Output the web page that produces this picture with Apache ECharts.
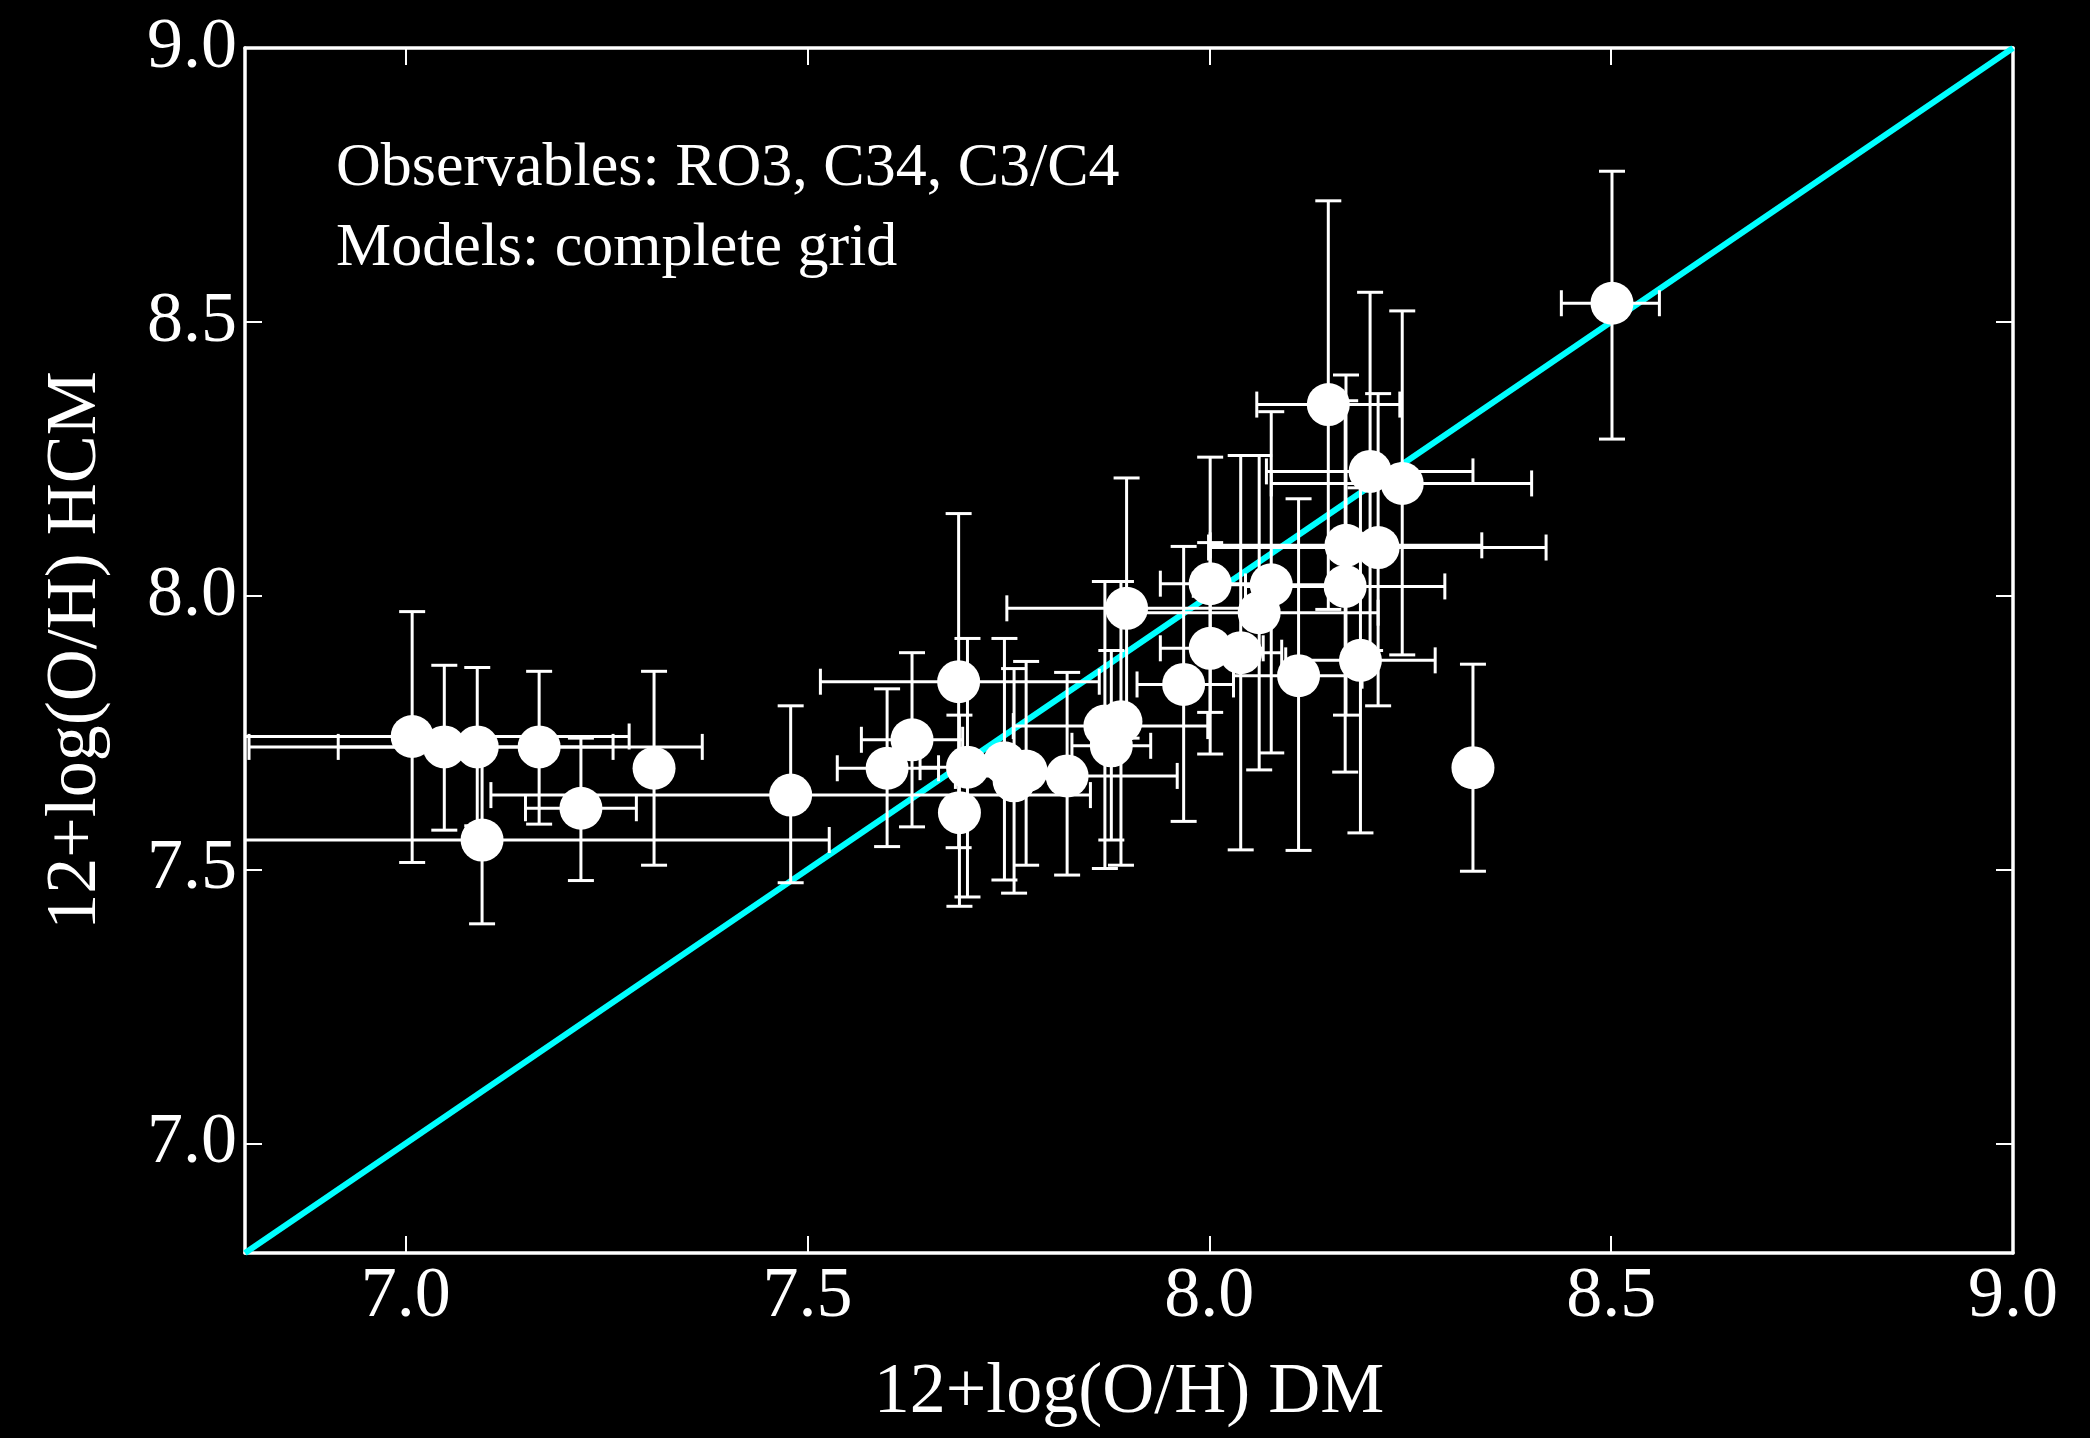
<!DOCTYPE html>
<html>
<head>
<meta charset="utf-8">
<script src="https://cdn.jsdelivr.net/npm/echarts@6/dist/echarts.min.js"></script>
<style>
  html, body { margin: 0; padding: 0; background: #000; }
  #chart { width: 2090px; height: 1438px; }
</style>
</head>
<body>
<div id="chart"></div>
<script>
// Data: DM abundance (x), HCM abundance (y) and the error bar ends
const xValues = [7.008, 7.048, 7.089, 7.166, 7.095, 7.218, 7.309, 7.479, 7.599, 7.630,
  7.688, 7.689, 7.699, 7.745, 7.757, 7.772, 7.823, 7.870, 7.890, 7.878,
  7.897, 7.968, 8.001, 8.001, 8.039, 8.062, 8.077, 8.111, 8.148, 8.170,
  8.169, 8.188, 8.200, 8.210, 8.240, 8.328, 8.501]
const yValues = [7.743, 7.724, 7.724, 7.724, 7.554, 7.612, 7.685, 7.636, 7.685, 7.737,
  7.843, 7.604, 7.687, 7.695, 7.662, 7.680, 7.671, 7.762, 7.770, 7.726,
  7.977, 7.838, 8.022, 7.904, 7.896, 7.969, 8.020, 7.854, 8.349, 8.092,
  8.017, 7.882, 8.227, 8.088, 8.205, 7.686, 8.534]
const xLow = [6.738, 6.916, 6.805, null, 6.660, 7.149, null, 7.106, 7.537, 7.567,
  7.516, null, 7.640, null, null, null, 7.684, 7.756, null, 7.829,
  7.748, 7.910, 7.939, 7.939, 7.990, 7.910, 7.980, 8.030, 8.059, 8.001,
  8.045, 8.095, 8.071, 7.999, 8.077, null, 8.438]
const xHigh = [7.278, 7.258, 7.369, null, 7.527, 7.287, null, 7.852, 7.663, 7.693,
  7.863, null, 7.735, null, null, null, 7.960, 7.998, null, 7.927,
  8.046, 8.030, 8.063, 8.067, 8.090, 8.210, 8.175, 8.190, 8.237, 8.339,
  8.293, 8.281, 8.328, 8.419, 8.401, null, 8.560]
const yLow = [7.513, 7.572, 7.580, 7.583, 7.401, 7.480, 7.508, 7.476, 7.542, 7.578,
  7.540, 7.433, 7.450, 7.481, 7.457, 7.508, 7.490, 7.502, 7.508, 7.554,
  7.740, 7.588, 7.787, 7.711, 7.536, 7.682, 7.713, 7.535, 7.975, 7.782,
  7.678, 7.567, 7.900, 7.799, 7.892, 7.497, 8.286]
const yHigh = [7.971, 7.873, 7.869, 7.862, 7.720, 7.740, 7.862, 7.799, 7.830, 7.896,
  8.150, 7.782, 7.922, 7.922, 7.867, 7.880, 7.860, 8.026, 8.026, 7.900,
  8.215, 8.090, 8.253, 8.097, 8.256, 8.256, 8.336, 8.177, 8.721, 8.403,
  8.356, 8.197, 8.554, 8.369, 8.520, 7.875, 8.775]

// One-to-one line and tick labels
const identityLine = [6.8, 9.0]
const tickValues = [7.0, 7.5, 8.0, 8.5, 9.0]

const serif = 'Liberation Serif'
const chart = echarts.init(document.getElementById('chart'))

// Draw the x and y error bars of one point, clipped to the plot box
const renderErrorBars = (params, api) => {
  const i = api.value(2)
  const box = params.coordSys
  const clampX = v => Math.max(box.x, Math.min(box.x + box.width, v))
  const clampY = v => Math.max(box.y, Math.min(box.y + box.height, v))
  const cap = 13
  const style = { stroke: '#ffffff', lineWidth: 3 }
  const children = []
  const line = (x1, y1, x2, y2) => children.push({ type: 'line', shape: { x1, y1, x2, y2 }, style })

  const top = api.coord([xValues[i], yHigh[i]])
  const bottom = api.coord([xValues[i], yLow[i]])
  line(top[0], clampY(top[1]), bottom[0], clampY(bottom[1]))
  line(top[0] - cap, top[1], top[0] + cap, top[1])
  line(bottom[0] - cap, bottom[1], bottom[0] + cap, bottom[1])

  if (xLow[i] !== null) {
    const left = api.coord([xLow[i], yValues[i]])
    const right = api.coord([xHigh[i], yValues[i]])
    line(clampX(left[0]), left[1], clampX(right[0]), right[1])
    if (left[0] >= box.x) line(left[0], left[1] - cap, left[0], left[1] + cap)
    if (right[0] <= box.x + box.width) line(right[0], right[1] - cap, right[0], right[1] + cap)
  }
  return { type: 'group', children }
}

const axisBase = (show) => ({
  type: 'value',
  min: 6.8,
  max: 9.0,
  axisLine: { show: true, onZero: false, lineStyle: { color: '#ffffff', width: 3.5 } },
  axisTick: { show: true, inside: true, length: 17, customValues: tickValues, lineStyle: { color: '#ffffff', width: 2 } },
  axisLabel: {
    show,
    customValues: tickValues,
    formatter: v => v.toFixed(1),
    color: '#ffffff',
    fontFamily: serif,
    fontSize: 72,
  },
  splitLine: { show: false },
})

const option = {
  backgroundColor: '#000000',
  animation: false,
  grid: { left: 245, right: 77, top: 48, bottom: 185 },
  xAxis: [
    {
      ...axisBase(true),
      position: 'bottom',
      name: '12+log(O/H) DM',
      nameLocation: 'middle',
      nameGap: 104,
      nameTextStyle: { color: '#ffffff', fontFamily: serif, fontSize: 72 },
    },
    { ...axisBase(false), position: 'top' },
  ],
  yAxis: [
    {
      ...axisBase(true),
      position: 'left',
      name: '12+log(O/H) HCM',
      nameLocation: 'middle',
      nameGap: 133,
      nameTextStyle: { color: '#ffffff', fontFamily: serif, fontSize: 72 },
    },
    { ...axisBase(false), position: 'right' },
  ],
  graphic: [
    {
      type: 'text',
      left: 336,
      top: 138,
      style: { text: 'Observables: RO3, C34, C3/C4', fill: '#ffffff', font: '62px "Liberation Serif"' },
    },
    {
      type: 'text',
      left: 336,
      top: 218,
      style: { text: 'Models: complete grid', fill: '#ffffff', font: '62px "Liberation Serif"' },
    },
  ],
  series: [
    {
      type: 'line',
      data: [[identityLine[0], identityLine[0]], [identityLine[1], identityLine[1]]],
      symbol: 'none',
      lineStyle: { color: '#00ffff', width: 6 },
      z: 1,
    },
    {
      type: 'custom',
      renderItem: renderErrorBars,
      data: xValues.map((x, i) => [x, yValues[i], i]),
      encode: { x: 0, y: 1 },
      z: 2,
    },
    {
      type: 'scatter',
      data: xValues.map((x, i) => [x, yValues[i]]),
      symbolSize: 43,
      itemStyle: { color: '#ffffff', opacity: 1 },
      z: 3,
    },
  ],
}

chart.setOption(option)
</script>
</body>
</html>
